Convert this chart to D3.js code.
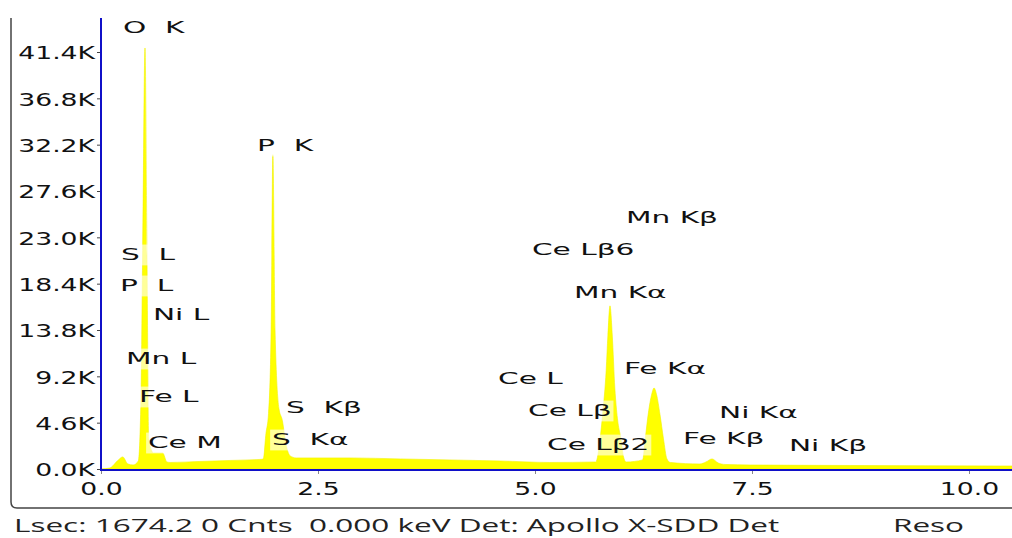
<!DOCTYPE html>
<html>
<head>
<meta charset="utf-8">
<script src="https://cdn.jsdelivr.net/npm/d3@7"></script>
<style>
  body { margin: 0; background: #fff; }
  svg { display: block; }
  text { white-space: pre; }
</style>
</head>
<body>
<script>
// spectrum: energy (keV) and counts
const energies = [0.00, 0.10, 0.20, 0.25, 0.31, 0.37, 0.43, 0.46, 0.48, 0.507, 0.53, 0.55, 0.58, 0.60, 0.71, 0.76, 0.80,
  1.14, 1.49, 1.83, 1.87, 1.90, 1.93, 1.96, 1.98, 2.005, 2.05, 2.09, 2.13, 2.18, 2.25, 2.87, 3.45, 4.02, 4.60, 5.17,
  5.70, 5.75, 5.78, 5.82, 5.84, 5.864, 5.89, 5.92, 5.95, 5.99, 6.02, 6.05, 6.24, 6.27, 6.31, 6.35, 6.371, 6.40, 6.44,
  6.48, 6.52, 6.56, 6.90, 6.97, 7.04, 7.11, 7.19, 7.48, 8.63, 10.36, 10.50];
const counts = [0, 100, 900, 1200, 500, 400, 800, 6800, 21700, 41800, 21000, 3000, 1900, 1600, 1600, 700, 650,
  750, 850, 950, 1000, 3500, 5500, 13800, 31200, 13800, 6000, 4800, 2500, 1300, 1100, 1100, 1000, 900, 800, 650,
  700, 3000, 5500, 9800, 13300, 16200, 13300, 8000, 5000, 3000, 1200, 700, 900, 3000, 5800, 7600, 8050, 7400, 5400,
  3000, 1000, 650, 500, 700, 1000, 600, 450, 400, 350, 300, 300];

// peak labels: text, left edge (keV), vertical centre (counts)
const peakNames = ['O  K', 'S  L', 'P  L', 'Ni L', 'Mn L', 'Fe L', 'Ce M', 'P  K', 'S  K\u03b2', 'S  K\u03b1',
  'Mn K\u03b2', 'Ce L\u03b26', 'Mn K\u03b1', 'Ce L', 'Fe K\u03b1', 'Ce L\u03b2', 'Ni K\u03b1', 'Ce L\u03b22', 'Fe K\u03b2', 'Ni K\u03b2'];
const peakKeV = [0.253, 0.230, 0.219, 0.599, 0.288, 0.438, 0.541, 1.797, 2.131, 1.970,
  6.048, 4.965, 5.449, 4.574, 6.025, 4.919, 7.120, 5.138, 6.705, 7.926];
const peakCounts = [43800, 21250, 18170, 15290, 10920, 7150, 2580, 32070, 6060, 2880,
  24920, 21750, 17480, 8940, 9930, 5760, 5560, 2380, 2980, 2280];

const yTicks = [0, 4600, 9200, 13800, 18400, 23000, 27600, 32200, 36800, 41400];
const yTickLabels = ['0.0K', '4.6K', '9.2K', '13.8K', '18.4K', '23.0K', '27.6K', '32.2K', '36.8K', '41.4K'];
const xTicks = [0, 2.5, 5, 7.5, 10];
const xTickLabels = ['0.0', '2.5', '5.0', '7.5', '10.0'];

const footerText = 'Lsec: 1674.2 0 Cnts  0.000 keV Det: Apollo X-SDD Det';
const footerRight = 'Reso';

const W = 1012, H = 538;
const svg = d3.select('body').append('svg').attr('width', W).attr('height', H);

const x = d3.scaleLinear().domain([0, 10.5]).range([101, 101 + 10.5 * 86.8]);
const y = d3.scaleLinear().domain([0, 41400]).range([469, 52]);

const spectrum = energies.map((e, i) => ({ e: e, c: counts[i] }));

// outer frame (left and bottom edge of the window)
svg.append('path')
  .attr('d', 'M11,18 L11,502 Q11,508 17,508 L1012,508')
  .attr('fill', 'none')
  .attr('stroke', '#444')
  .attr('stroke-width', 1.5);

// spectrum
const area = d3.area()
  .x(d => x(d.e))
  .y0(y(0))
  .y1(d => y(d.c))
  .curve(d3.curveMonotoneX);

svg.append('path')
  .datum(spectrum)
  .attr('d', area)
  .attr('fill', '#ffff00')
  .attr('stroke', '#f2f200')
  .attr('stroke-width', 0.6);

// tick labels stretched horizontally, like the original
const tickSX = 1.48;
const yAxis = svg.append('g')
  .attr('transform', `translate(${x(0)},0)`)
  .call(d3.axisLeft(y).tickValues(yTicks).tickFormat((d, i) => yTickLabels[i]).tickSize(4).tickPadding(0));
yAxis.select('.domain').remove();
yAxis.selectAll('.tick line').attr('stroke', '#444');
yAxis.selectAll('.tick text')
  .attr('x', 0)
  .attr('transform', `translate(-6,1) scale(${tickSX},1)`)
  .attr('font-family', 'DejaVu Sans')
  .attr('font-size', 18)
  .attr('fill', '#111');

const xAxis = svg.append('g')
  .attr('transform', `translate(0,${y(0) + 1})`)
  .call(d3.axisBottom(x).tickValues(xTicks).tickFormat((d, i) => xTickLabels[i]).tickSize(4).tickPadding(0));
xAxis.select('.domain').remove();
xAxis.selectAll('.tick line').attr('stroke', '#888');
xAxis.selectAll('.tick text')
  .attr('y', 0)
  .attr('dy', null)
  .attr('transform', `translate(0,25) scale(${tickSX},1)`)
  .attr('font-family', 'DejaVu Sans')
  .attr('font-size', 18)
  .attr('fill', '#111');

// blue axis lines
svg.append('line')
  .attr('x1', x(0)).attr('x2', x(0))
  .attr('y1', 18).attr('y2', y(0) + 2)
  .attr('stroke', '#1010c8').attr('stroke-width', 2);
svg.append('line')
  .attr('x1', x(0) - 1).attr('x2', W)
  .attr('y1', y(0) + 1).attr('y2', y(0) + 1)
  .attr('stroke', '#1010c8').attr('stroke-width', 2);

// peak labels with translucent white boxes
const labelSX = 1.85;
const labels = svg.append('g').selectAll('g')
  .data(peakNames)
  .join('g')
  .attr('transform', (d, i) => `translate(${x(peakKeV[i])},${y(peakCounts[i])}) scale(${labelSX},1)`);

labels.append('rect');
labels.append('text')
  .text(d => d)
  .attr('dominant-baseline', 'central')
  .attr('font-family', 'DejaVu Sans')
  .attr('font-size', 16)
  .attr('fill', '#111');

labels.each(function () {
  const g = d3.select(this);
  const b = g.select('text').node().getBBox();
  g.select('rect')
    .attr('x', b.x - 1).attr('y', b.y - 1)
    .attr('width', b.width + 2).attr('height', b.height + 2)
    .attr('fill', '#fff').attr('fill-opacity', 0.6);
});

// footer line
const footerSX = 1.8;
svg.append('text')
  .attr('transform', `translate(14,532) scale(${footerSX},1)`)
  .attr('font-family', 'Open Sans')
  .attr('font-size', 17.5)
  .attr('fill', '#222')
  .text(footerText);
svg.append('text')
  .attr('transform', `translate(893,532) scale(${footerSX},1)`)
  .attr('font-family', 'Open Sans')
  .attr('font-size', 17.5)
  .attr('fill', '#222')
  .text(footerRight);
</script>
</body>
</html>
